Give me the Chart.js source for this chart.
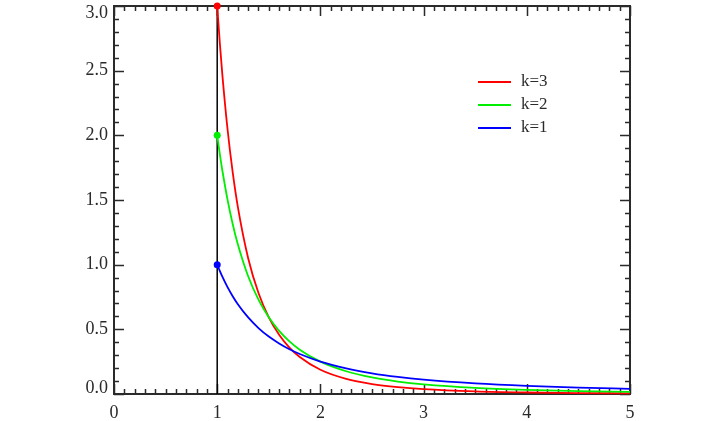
<!DOCTYPE html>
<html>
<head>
<meta charset="utf-8">
<script src="https://cdn.jsdelivr.net/npm/chart.js@4.4.0/dist/chart.umd.min.js"></script>
<style>
  html, body { margin: 0; padding: 0; background: #fff; }
  #wrap { width: 720px; height: 421px; }
</style>
</head>
<body>
<div id="wrap"><canvas id="chart"></canvas></div>
<script>
// values
const xs = [1, 1.025, 1.05, 1.1, 1.15, 1.2, 1.3, 1.4, 1.5, 1.6, 1.7, 1.8, 2.0, 2.25, 2.5, 2.75, 3, 3.5, 4, 4.5, 5];
const k3 = [3, 2.718, 2.468, 2.049, 1.715, 1.447, 1.050, 0.781, 0.593, 0.458, 0.359, 0.286, 0.1875, 0.117, 0.0768, 0.0525, 0.037, 0.020, 0.0117, 0.0073, 0.0048];
const k2 = [2, 1.857, 1.728, 1.503, 1.315, 1.157, 0.910, 0.729, 0.593, 0.488, 0.407, 0.343, 0.25, 0.176, 0.128, 0.096, 0.074, 0.0466, 0.0313, 0.0219, 0.016];
const k1 = [1, 0.952, 0.907, 0.826, 0.756, 0.694, 0.592, 0.510, 0.444, 0.391, 0.346, 0.309, 0.25, 0.198, 0.16, 0.132, 0.111, 0.082, 0.0625, 0.049, 0.04];
const xTicks = [0, 1, 2, 3, 4, 5];
const yTicks = [0, 0.5, 1, 1.5, 2, 2.5, 3];
const seriesLabels = ["k=3", "k=2", "k=1"];
const seriesColors = ["#ff0000", "#00ee00", "#0000ff"];
const markerLine = [{ x: 1, y: 0 }, { x: 1, y: 3 }];

const toPoints = (vals) => vals.map((v, i) => ({ x: xs[i], y: v }));
const serif = "'Liberation Serif', 'DejaVu Serif', serif";
const ink = "#2a2a2a";

// box frame with inward ticks on all four sides, y labels kept inside the box height
const framePlugin = {
  id: "frame",
  beforeDatasetsDraw(chart) {
    const { ctx, chartArea: a, scales } = chart;
    ctx.save();
    ctx.strokeStyle = ink;
    ctx.lineWidth = 1.5;
    for (let i = 0; i <= 50; i++) {
      const v = i / 10;
      const px = Math.round(scales.x.getPixelForValue(v)) + 0.5;
      const len = i % 10 === 0 ? 10 : 5;
      ctx.beginPath();
      ctx.moveTo(px, a.bottom); ctx.lineTo(px, a.bottom - len);
      ctx.moveTo(px, a.top); ctx.lineTo(px, a.top + len);
      ctx.stroke();
    }
    for (let i = 0; i <= 30; i++) {
      const v = i / 10;
      const py = Math.round(scales.y.getPixelForValue(v)) + 0.5;
      const len = i % 5 === 0 ? 10 : 5;
      ctx.beginPath();
      ctx.moveTo(a.left, py); ctx.lineTo(a.left + len, py);
      ctx.moveTo(a.right, py); ctx.lineTo(a.right - len, py);
      ctx.stroke();
    }
    ctx.lineWidth = 2;
    ctx.strokeRect(a.left, a.top, a.right - a.left, a.bottom - a.top);

    ctx.fillStyle = ink;
    ctx.font = "18px " + serif;
    ctx.textAlign = "right";
    ctx.textBaseline = "middle";
    yTicks.forEach((v) => {
      const py = Math.min(Math.max(scales.y.getPixelForValue(v), a.top + 7), a.bottom - 6);
      ctx.fillText(v.toFixed(1), a.left - 6, py);
    });

    // legend inside the plot
    ctx.font = "17px " + serif;
    ctx.textAlign = "left";
    seriesLabels.forEach((lab, i) => {
      const y = 82 + i * 23;
      ctx.strokeStyle = seriesColors[i];
      ctx.lineWidth = 1.8;
      ctx.beginPath();
      ctx.moveTo(478, y); ctx.lineTo(511, y);
      ctx.stroke();
      ctx.fillText(lab, 521, y);
    });
    ctx.restore();
  },
};

new Chart(document.getElementById("chart"), {
  type: "line",
  data: {
    datasets: [
      {
        label: "x=1",
        data: markerLine,
        borderColor: "#000",
        borderWidth: 1.5,
        pointRadius: 0,
        order: 4,
      },
      ...[k3, k2, k1].map((vals, i) => ({
        label: seriesLabels[i],
        data: toPoints(vals),
        borderColor: seriesColors[i],
        backgroundColor: seriesColors[i],
        borderWidth: 1.8,
        cubicInterpolationMode: "monotone",
        pointRadius: (c) => (c.dataIndex === 0 ? 3.5 : 0),
        pointBorderWidth: 0,
        clip: 6,
        order: 3 - i,
      })),
    ],
  },
  options: {
    responsive: true,
    maintainAspectRatio: false,
    animation: false,
    layout: { padding: { left: 0, top: 6, right: 90, bottom: 0 } },
    plugins: {
      legend: { display: false },
      tooltip: { enabled: false },
    },
    scales: {
      x: {
        type: "linear",
        min: 0,
        max: 5,
        afterBuildTicks: (s) => { s.ticks = xTicks.map((v) => ({ value: v })); },
        afterFit: (s) => { s.height = 27; s.paddingLeft = 0; s.paddingRight = 0; },
        grid: { display: false },
        border: { display: false },
        ticks: {
          color: ink,
          padding: 0,
          maxRotation: 0,
          font: { family: serif, size: 18 },
          callback: (v) => String(v),
        },
      },
      y: {
        type: "linear",
        min: 0,
        max: 3,
        afterBuildTicks: (s) => { s.ticks = yTicks.map((v) => ({ value: v })); },
        afterFit: (s) => { s.width = 114; s.paddingTop = 0; s.paddingBottom = 0; },
        grid: { display: false },
        border: { display: false },
        ticks: { display: false },
      },
    },
  },
  plugins: [framePlugin],
});
</script>
</body>
</html>
